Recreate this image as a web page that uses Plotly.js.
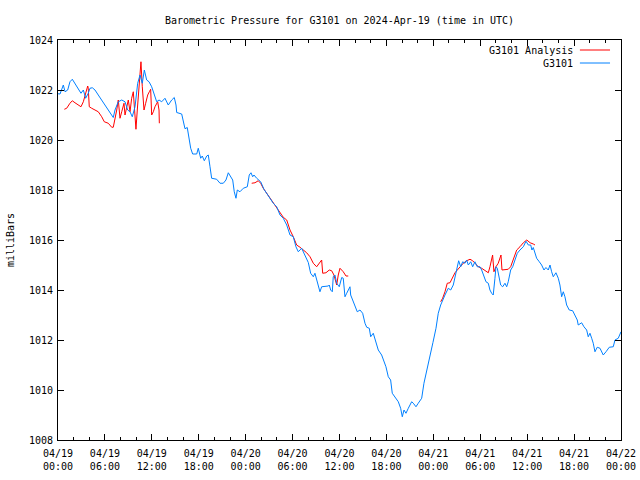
<!DOCTYPE html>
<html>
<head>
<meta charset="utf-8">
<script src="https://cdn.plot.ly/plotly-3.0.1.min.js"></script>
<style>html,body{margin:0;padding:0;background:#fff;}#chart{width:640px;height:480px;}</style>
</head>
<body>
<div id="chart"></div>
<script>
// Hours since 2024-04-19 00:00 UTC and pressure (mb)
var stationHours = [0,0.26,0.68,0.90,1.24,1.53,1.83,2.17,2.60,2.94,3.24,3.54,3.87,4.09,4.39,4.73,5.15,5.59,6.01,6.43,6.87,7.07,7.29,7.71,8.15,8.57,8.91,9.21,9.50,9.85,10.19,10.49,10.78,11.04,11.34,11.64,11.98,12.31,12.62,12.92,13.26,13.68,14.10,14.54,14.87,15.09,15.18,15.82,16.02,16.24,16.53,16.66,16.88,16.97,17.22,17.74,17.94,18.25,18.45,18.71,19.02,19.22,19.44,19.65,20.29,20.72,21.14,21.48,21.78,22.08,22.34,22.54,22.76,22.93,23.27,23.70,24.21,24.46,24.68,24.90,25.06,25.41,25.92,26.34,26.69,27.11,27.53,27.97,28.39,28.81,29.25,29.67,30.09,30.43,30.73,31.16,31.59,32.01,32.31,32.65,32.86,33.16,33.50,33.72,34.14,34.57,34.69,34.87,35.08,35.20,35.42,35.64,35.97,36.28,36.48,36.70,36.92,37.12,37.34,37.43,37.69,37.98,38.27,38.62,38.96,39.26,39.48,39.81,39.99,40.32,40.66,40.96,41.39,41.69,41.94,42.24,42.54,42.75,43.09,43.52,43.82,44.03,44.25,44.50,44.80,45.23,45.44,45.78,46.07,46.51,46.80,47.06,47.35,47.57,47.95,48.34,48.63,48.94,49.19,49.49,49.91,50.22,50.55,50.77,50.98,51.24,51.50,51.75,52.05,52.26,52.47,52.78,53.03,53.32,53.62,53.96,54.18,54.48,54.73,55.03,55.24,55.46,55.66,55.88,56.01,56.18,56.43,56.61,56.87,57.16,57.38,57.58,57.89,58.15,58.44,58.74,59.08,59.51,59.85,60.15,60.45,60.61,60.78,61.00,61.21,61.55,61.85,62.15,62.40,62.70,62.92,63.13,63.34,63.68,63.98,64.19,64.41,64.62,64.83,65.05,65.38,65.82,66.11,66.41,66.53,66.97,67.26,67.61,67.81,68.03,68.25,68.45,68.67,68.96,69.31,69.73,70.08,70.50,71.01,71.23,71.65,71.87,72.0];
var stationPressure = [1021.85,1021.84,1022.2,1021.93,1022.0,1022.33,1022.43,1022.27,1022.07,1021.87,1022.0,1021.67,1021.87,1022.07,1022.09,1022.0,1021.8,1021.6,1021.4,1021.2,1021.04,1020.9,1021.2,1021.53,1021.6,1021.53,1021.2,1021.13,1020.93,1021.33,1022.27,1022.6,1022.27,1022.8,1022.4,1022.33,1022.13,1021.8,1021.53,1021.6,1021.53,1021.67,1021.4,1021.6,1021.7,1021.4,1021.1,1021.04,1020.75,1020.45,1020.5,1020.27,1019.93,1019.67,1019.44,1019.44,1019.67,1019.27,1019.36,1019.17,1019.36,1019.4,1018.93,1018.47,1018.43,1018.27,1018.27,1018.4,1018.69,1018.5,1018.4,1017.93,1017.67,1018.0,1017.93,1018.07,1018.13,1018.6,1018.69,1018.53,1018.6,1018.47,1018.33,1018.03,1017.87,1017.67,1017.47,1017.33,1017.0,1016.87,1016.6,1016.2,1016.13,1015.73,1015.53,1015.67,1015.4,1015.1,1014.67,1014.53,1014.67,1014.27,1013.93,1014.13,1014.16,1014.16,1014.2,1014.0,1013.93,1014.53,1014.6,1014.27,1014.13,1014.5,1014.47,1013.73,1013.87,1014.0,1014.13,1013.8,1013.6,1013.33,1013.13,1013.2,1013.07,1012.67,1012.51,1012.47,1012.13,1012.27,1011.93,1011.6,1011.4,1011.13,1010.93,1010.53,1010.4,1009.87,1009.73,1009.53,1009.27,1008.93,1009.2,1009.07,1009.27,1009.53,1009.47,1009.33,1009.47,1009.67,1010.27,1010.67,1011.07,1011.33,1011.9,1012.47,1013.07,1013.4,1013.6,1013.8,1014.07,1014.0,1014.2,1014.53,1014.8,1015.17,1014.93,1015.13,1015.07,1015.2,1015.0,1015.13,1014.93,1015.13,1014.93,1014.93,1014.8,1014.53,1014.33,1014.27,1014.0,1013.87,1013.8,1014.47,1014.93,1014.87,1014.53,1014.2,1014.13,1014.27,1014.13,1014.33,1014.8,1014.93,1015.2,1015.47,1015.6,1015.73,1015.95,1015.8,1015.8,1015.6,1015.7,1015.47,1015.27,1015.13,1015.0,1014.8,1014.9,1014.8,1015.0,1014.73,1014.53,1014.69,1014.47,1014.2,1013.73,1013.93,1013.73,1013.4,1013.2,1013.17,1013.0,1012.8,1012.6,1012.69,1012.53,1012.4,1012.13,1012.27,1012.07,1011.87,1011.53,1011.71,1011.67,1011.4,1011.53,1011.71,1011.73,1012.0,1012.07,1012.27,1012.33];

var analysisHours = [0.81,1.11,1.53,1.83,2.17,2.60,2.94,3.24,3.54,3.80,3.87,4.00,4.31,4.73,5.15,5.59,5.92,6.43,6.87,7.07,7.29,7.51,7.71,7.93,8.15,8.44,8.57,8.79,8.99,9.21,9.42,9.63,9.85,9.97,10.14,10.27,10.49,10.61,10.78,11.00,11.21,11.47,11.68,11.85,11.98,12.19,12.40,12.75,12.92,12.96,
  18.0,
  24.77,25.19,25.61,25.92,26.25,26.69,27.11,27.53,27.97,28.39,28.81,29.25,29.67,30.09,30.52,30.95,31.37,31.80,32.23,32.65,33.08,33.50,33.72,33.85,34.27,34.69,35.00,35.29,35.64,35.84,36.06,36.48,36.83,37.12,
  43.0,
  48.94,49.19,49.49,49.78,50.13,50.47,50.77,51.07,51.41,51.83,52.26,52.69,53.03,53.32,53.75,54.18,54.60,55.03,55.24,55.46,55.58,55.75,56.01,56.30,56.52,56.65,56.78,57.16,57.58,57.89,58.15,58.44,58.66,59.08,59.51,59.95,60.38,60.78,61.00];
var analysisPressure = [1021.23,1021.27,1021.47,1021.57,1021.49,1021.4,1021.33,1021.53,1021.87,1022.16,1022.07,1021.33,1021.27,1021.2,1021.13,1020.93,1020.73,1020.67,1020.51,1020.51,1020.8,1021.2,1021.6,1020.87,1021.13,1021.47,1021.0,1021.4,1021.6,1021.13,1021.67,1021.93,1021.13,1020.43,1021.2,1021.67,1022.67,1023.13,1022.13,1021.2,1021.47,1021.8,1021.93,1022.03,1021.0,1021.13,1021.33,1021.53,1021.2,1020.67,
  null,
  1018.27,1018.29,1018.37,1018.27,1018.07,1017.87,1017.67,1017.49,1017.33,1017.09,1016.91,1016.8,1016.4,1016.13,1015.8,1015.71,1015.6,1015.49,1015.33,1015.07,1014.93,1015.09,1015.2,1014.67,1014.69,1014.8,1014.77,1014.6,1014.2,1014.6,1014.87,1014.73,1014.56,1014.56,
  null,
  1013.53,1013.67,1013.93,1014.27,1014.29,1014.51,1014.69,1014.8,1014.93,1015.07,1015.17,1015.23,1015.17,1015.07,1014.93,1014.87,1014.77,1014.69,1014.93,1015.2,1015.4,1014.73,1014.93,1015.07,1015.33,1015.4,1014.8,1014.8,1014.83,1014.93,1015.13,1015.4,1015.6,1015.73,1015.89,1016.0,1015.89,1015.84,1015.8];

var seriesNames = ['G3101 Analysis', 'G3101'];
var seriesColors = ['#ff0000', '#0080ff'];

var xTickVals = [0,6,12,18,24,30,36,42,48,54,60,66,72];
var xTickText = ['04/19<br>00:00','04/19<br>06:00','04/19<br>12:00','04/19<br>18:00','04/20<br>00:00','04/20<br>06:00','04/20<br>12:00','04/20<br>18:00','04/21<br>00:00','04/21<br>06:00','04/21<br>12:00','04/21<br>18:00','04/22<br>00:00'];
var yTickVals = [1008,1010,1012,1014,1016,1018,1020,1022,1024];

var font = {family: 'DejaVu Sans Mono, monospace', size: 10, color: '#000'};

var traces = [
  {x: analysisHours, y: analysisPressure, name: seriesNames[0], type: 'scatter', mode: 'lines',
   line: {color: seriesColors[0], width: 1}, connectgaps: false},
  {x: stationHours, y: stationPressure, name: seriesNames[1], type: 'scatter', mode: 'lines',
   line: {color: seriesColors[1], width: 1}}
];

// key (gnuplot style: label right-aligned, sample line to its right)
var keyRows = [0.975, 0.9425];
var annotations = [], shapes = [];
seriesNames.forEach(function (n, i) {
  annotations.push({xref: 'paper', yref: 'paper', x: 0.918, y: keyRows[i], xanchor: 'right', yanchor: 'middle',
                    text: n, showarrow: false, font: font});
  shapes.push({type: 'line', xref: 'paper', yref: 'paper', x0: 0.927, x1: 0.9805, y0: keyRows[i], y1: keyRows[i],
               line: {color: seriesColors[i], width: 1}});
});

var layout = {
  width: 640, height: 480,
  margin: {l: 58, r: 19, t: 40, b: 40, pad: 0},
  paper_bgcolor: '#fff', plot_bgcolor: '#fff',
  font: font,
  title: {text: 'Barometric Pressure for G3101 on 2024-Apr-19 (time in UTC)', font: font,
          x: 0.5, xanchor: 'center', y: 0.958, yanchor: 'middle', xref: 'paper'},
  showlegend: false,
  annotations: annotations,
  shapes: shapes,
  xaxis: {
    range: [0, 72], tickmode: 'array', tickvals: xTickVals, ticktext: xTickText,
    ticks: 'inside', ticklen: 6, tickwidth: 1, tickcolor: '#000', ticklabelstandoff: 4,
    minor: {dtick: 2, ticks: 'inside', ticklen: 3, tickwidth: 1, tickcolor: '#000', showgrid: false},
    showline: true, linecolor: '#000', linewidth: 1, mirror: 'allticks',
    showgrid: false, zeroline: false, tickfont: font, automargin: false
  },
  yaxis: {
    range: [1008, 1024], tickmode: 'array', tickvals: yTickVals,
    ticks: 'inside', ticklen: 6, tickwidth: 1, tickcolor: '#000', ticklabelstandoff: 2,
    showline: true, linecolor: '#000', linewidth: 1, mirror: 'allticks',
    showgrid: false, zeroline: false, tickfont: font, automargin: false,
    title: {text: 'milliBars', font: font, standoff: 12}
  }
};

Plotly.newPlot('chart', traces, layout, {staticPlot: true, displayModeBar: false});
</script>
</body>
</html>
